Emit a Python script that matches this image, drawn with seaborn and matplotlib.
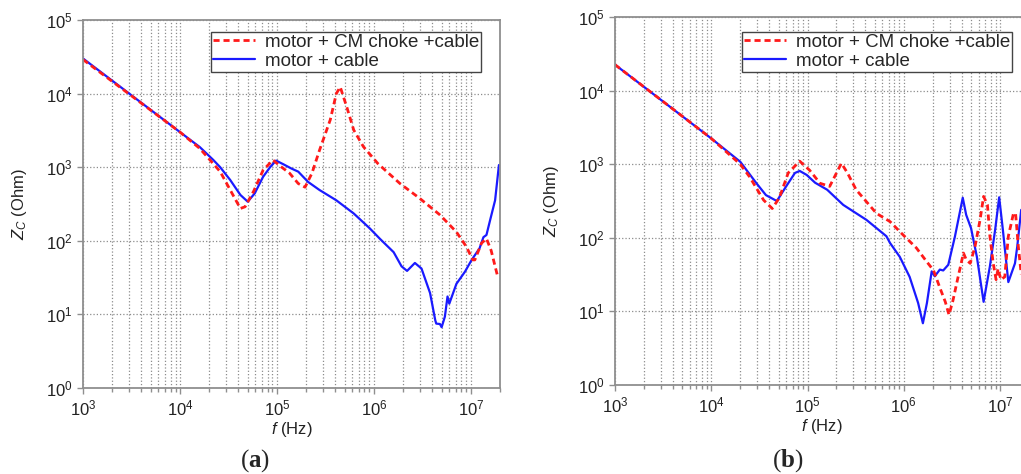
import numpy as np
import pandas as pd
import matplotlib
matplotlib.use("Agg")
import matplotlib.pyplot as plt
from matplotlib.ticker import LogLocator, NullLocator
import seaborn as sns

# (a) motor + cable
fa_cable = [1e3, 1e4, 1.6e4, 2.2e4, 2.6e4, 3.3e4, 4.2e4, 5.0e4, 5.9e4, 7.2e4, 8.5e4,
            9.8e4, 1.16e5, 1.41e5, 1.66e5, 2.1e5, 2.75e5, 4.1e5, 6.2e5, 9.1e5, 1.15e6,
            1.6e6, 1.93e6, 2.2e6, 2.65e6, 3.1e6, 3.8e6, 4.3e6, 4.4e6, 4.8e6, 5.0e6,
            5.4e6, 5.75e6, 6.0e6, 7.1e6, 8.7e6, 1.02e7, 1.23e7, 1.35e7, 1.45e7, 1.58e7,
            1.78e7, 1.95e7]
za_cable = [30000, 3000, 1880, 1260, 1000, 670, 420, 340, 440, 740, 1000,
            1230, 1100, 960, 870, 630, 490, 355, 235, 147, 107,
            70, 45, 39, 50, 42, 19.5, 8.3, 7.5, 7.4, 6.7,
            9.3, 17.5, 14, 26, 38, 55, 79, 112, 120, 190,
            355, 1070]

# (a) motor + CM choke + cable
fa_choke = [1e3, 1e4, 1.6e4, 2.2e4, 2.6e4, 3.3e4, 4.2e4, 4.7e4, 5.75e4, 7.2e4, 9.1e4,
            1.12e5, 1.35e5, 1.66e5, 1.95e5, 2.3e5, 2.75e5, 3.55e5, 4.1e5, 4.5e5, 5.25e5,
            6.2e5, 7.8e5, 1.1e6, 1.86e6, 2.95e6, 4.8e6, 7.1e6, 9e6, 1.05e7, 1.1e7,
            1.29e7, 1.45e7, 1.62e7, 1.9e7]
za_choke = [29000, 3000, 1800, 1120, 870, 490, 275, 290, 470, 910, 1250,
            1000, 830, 600, 535, 830, 1700, 4400, 10000, 12300, 6600,
            3200, 1900, 1120, 600, 380, 225, 132, 83, 55, 55,
            93, 107, 74, 32]

# (b) motor + cable
fb_cable = [1e3, 1e4, 2e4, 2.95e4, 3.7e4, 4.8e4, 6e4, 7.4e4, 8.3e4, 9.8e4, 1.2e5,
            1.6e5, 2.35e5, 4.1e5, 6.6e5, 7.2e5, 9.1e5, 1.15e6, 1.41e6, 1.58e6, 1.74e6,
            1.95e6, 2.1e6, 2.37e6, 2.57e6, 2.9e6, 3.4e6, 4.1e6, 4.45e6, 5e6, 5.75e6,
            6.75e6, 7.85e6, 8.9e6, 9.8e6, 1.07e7, 1.22e7, 1.43e7, 1.51e7, 1.66e7]
zb_cable = [22500, 2240, 1080, 550, 380, 316, 500, 760, 810, 715, 560,
            450, 280, 175, 105, 85, 55, 29.5, 13, 6.9, 13,
            35, 30, 37, 36, 43, 104, 350, 205, 135, 55,
            13.5, 41, 129, 355, 129, 25, 45, 76, 240]

# (b) motor + CM choke + cable
fb_choke = [1e3, 1e4, 2e4, 2.5e4, 3.5e4, 4.3e4, 5.1e4, 6.3e4, 8.3e4, 1.05e5, 1.35e5,
            1.7e5, 2e5, 2.25e5, 2.6e5, 3.2e5, 5.2e5, 7.2e5, 9.8e5, 1.35e6, 1.74e6,
            2.04e6, 2.37e6, 2.7e6, 2.95e6, 3.24e6, 3.67e6, 4.17e6, 4.47e6, 4.9e6, 5.5e6,
            6.2e6, 6.75e6, 7.4e6, 7.85e6, 8.5e6, 9.1e6, 9.55e6, 1.02e7, 1.12e7, 1.22e7,
            1.38e7, 1.45e7, 1.55e7, 1.66e7]
zb_choke = [22500, 2240, 1000, 675, 325, 250, 350, 760, 1100, 830, 550,
            500, 760, 1030, 760, 450, 215, 166, 110, 73, 47,
            36, 21, 13.5, 9, 14, 29.5, 62, 50, 45, 76,
            175, 365, 280, 105, 45, 27, 38, 27, 29.5, 105,
            215, 215, 76, 32]

labels = ["motor + CM choke +cable", "motor + cable"]
panel_tags = [r"$\mathsf{(}\mathbf{a}\mathsf{)}$", r"$\mathsf{(}\mathbf{b}\mathsf{)}$"]

sns.set_style("white")
plt.rcParams["font.family"] = ["Liberation Sans", "DejaVu Sans"]
plt.rcParams["mathtext.fontset"] = "custom"
plt.rcParams["mathtext.rm"] = "Liberation Sans"
plt.rcParams["mathtext.it"] = "Liberation Sans:italic"
plt.rcParams["mathtext.sf"] = "Liberation Serif"
plt.rcParams["mathtext.bf"] = "Liberation Serif:bold"

fig = plt.figure(figsize=(10.21, 4.74), dpi=100)
ax_a = fig.add_axes([83 / 1021, 1 - 388 / 474, 417 / 1021, 368 / 474])
ax_b = fig.add_axes([615 / 1021, 1 - 385 / 474, 414 / 1021, 368 / 474])

panels = [
    (ax_a, fa_choke, za_choke, fa_cable, za_cable, 481),
    (ax_b, fb_choke, zb_choke, fb_cable, zb_cable, 1012),
]

for ax, fc, zc, fm, zm, leg_right in panels:
    sns.lineplot(x=fm, y=zm, ax=ax, color="#1a1aff", linewidth=1.6,
                 label=labels[1], sort=False, solid_joinstyle="round")
    sns.lineplot(x=fc, y=zc, ax=ax, color="#ff1a1a", linewidth=2.0,
                 linestyle=(0, (2.2, 1.4)), label=labels[0], sort=False)
    ax.set_xscale("log")
    ax.set_yscale("log")
    ax.set_xlim(1e3, 2e7)
    ax.set_ylim(1, 1e5)
    ax.xaxis.set_major_locator(LogLocator(base=10, numticks=10))
    ax.xaxis.set_minor_locator(LogLocator(base=10, subs=np.arange(2, 10), numticks=20))
    ax.yaxis.set_major_locator(LogLocator(base=10, numticks=10))
    ax.yaxis.set_minor_locator(NullLocator())
    ax.grid(which="major", axis="both", linestyle=":", color="#8c8c8c", linewidth=0.9)
    ax.grid(which="minor", axis="x", linestyle=":", color="#8c8c8c", linewidth=0.9)
    for s in ax.spines.values():
        s.set_color("#8f8f8f")
        s.set_linewidth(1.3)
    ax.tick_params(which="major", direction="out", length=4, width=1, color="#8f8f8f",
                   labelsize=12, labelcolor="#222222", left=True, bottom=True)
    ax.tick_params(which="minor", axis="x", direction="out", length=3, width=1,
                   color="#8f8f8f", bottom=True)
    ax.set_xlabel(r"$f$ (Hz)", fontsize=12, color="#222222", labelpad=1)
    ax.set_ylabel(r"$Z_C$ (Ohm)", fontsize=12, color="#222222", labelpad=12)
    handles, labs = ax.get_legend_handles_labels()
    leg = ax.legend(handles[::-1], labs[::-1], loc="upper right", fontsize=13.5,
                    frameon=True, fancybox=False, framealpha=1, edgecolor="#444444",
                    borderpad=0.1, labelspacing=0.1, handlelength=2.2, handletextpad=0.55,
                    borderaxespad=0,
                    bbox_to_anchor=(leg_right / 1021, 1 - 32 / 474),
                    bbox_transform=fig.transFigure)
    leg.get_frame().set_linewidth(1.0)

fig.text(255 / 1021, 1 - 461 / 474, panel_tags[0], ha="center", va="center", fontsize=18)
fig.text(788 / 1021, 1 - 461 / 474, panel_tags[1], ha="center", va="center", fontsize=18)

fig.savefig("out.png", dpi=100)
